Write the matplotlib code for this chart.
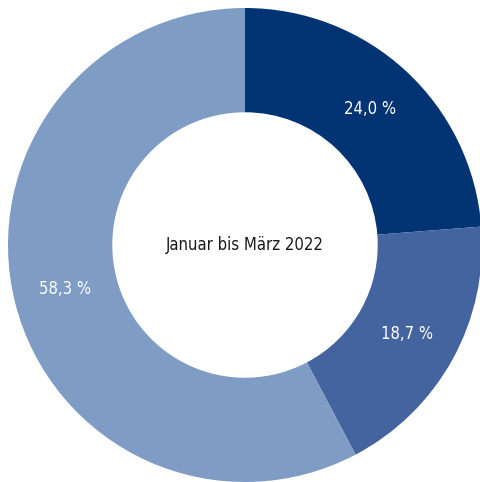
import matplotlib
matplotlib.use("Agg")
import matplotlib.pyplot as plt

# Anteile je Kategorie, im Uhrzeigersinn ab 12 Uhr
anteile = [24.0, 18.7, 58.3]
farben = ["#023474", "#43649e", "#7e9cc4"]
beschriftungen = ["24,0 %", "18,7 %", "58,3 %"]
mitte_text = "Januar bis März 2022"

plt.rcParams["font.family"] = ["DejaVu Sans"]
plt.rcParams["font.stretch"] = "condensed"

fig = plt.figure(figsize=(4.8, 4.82), dpi=100)
ax = fig.add_axes([0, 0, 1, 1])

wedges, texte = ax.pie(
    anteile,
    colors=farben,
    startangle=90,
    counterclock=False,
    radius=1.0,
    labels=beschriftungen,
    labeldistance=0.78,
    wedgeprops=dict(width=0.44, linewidth=0),
    textprops=dict(color="white", fontsize=12, fontstretch="condensed"),
)
for t in texte:
    t.set_horizontalalignment("center")
    t.set_verticalalignment("center")

ax.text(0, 0, mitte_text, ha="center", va="center", fontsize=12,
        fontstretch="condensed", color="#1a1a1a")

ax.set_xlim(-245 / 237, 235 / 237)
ax.set_ylim(-237 / 237, 245 / 237)
ax.set_aspect("equal")
ax.axis("off")

fig.savefig("out.png", dpi=100, facecolor="white")
